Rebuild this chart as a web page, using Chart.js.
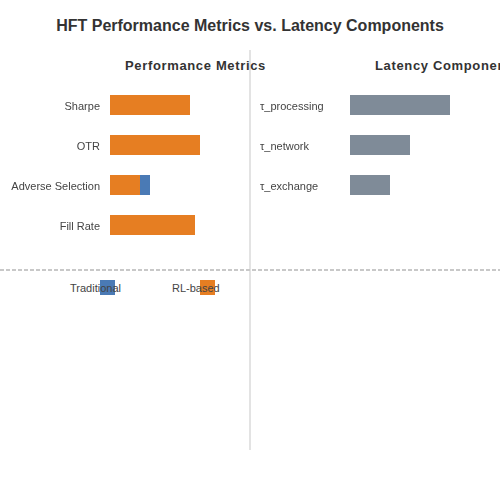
<!DOCTYPE html>
<html lang="en">
<head>
<meta charset="UTF-8">
<title>HFT Performance Metrics vs. Latency Components</title>
<style>
  body { margin: 0; background: #fff; font-family: "Liberation Sans", Arial, sans-serif; }
  #wrap { position: relative; width: 500px; height: 500px; overflow: hidden; background: #fff; }
  .title { position: absolute; left: 0; width: 500px; top: 16px; text-align: center; font-size: 16px; font-weight: bold; color: #333; line-height: 20px; }
  .sub { position: absolute; top: 58px; font-size: 13px; font-weight: bold; color: #333; white-space: nowrap; line-height: 16px; letter-spacing: 0.65px; }
  .vline { position: absolute; left: 249px; top: 50px; width: 2px; height: 400px; background: #e3e3e3; }
  .hline { position: absolute; left: 0; top: 269px; width: 500px; height: 2px;
           background: repeating-linear-gradient(90deg, #c8c8c8 0 4px, transparent 4px 6px); }
  .box { position: absolute; top: 280px; width: 15px; height: 15px; }
  .leg { position: absolute; top: 281px; font-size: 11px; color: #444; line-height: 14px; white-space: nowrap; }
  canvas { position: absolute; }
</style>
</head>
<body>
<div id="wrap">
  <div class="title">HFT Performance Metrics vs. Latency Components</div>
  <div class="vline"></div>
  <div class="sub" style="left:125px">Performance Metrics</div>
  <div class="sub" style="left:375px">Latency Components</div>
  <div class="hline"></div>

  <canvas id="perfChart" width="210" height="160" style="left:0;top:85px"></canvas>
  <canvas id="latChart" width="250" height="120" style="left:250px;top:85px"></canvas>

  <div class="box" style="left:100px;background:#4a7ab5"></div>
  <div class="leg" style="left:70px">Traditional</div>
  <div class="box" style="left:200px;background:#e67e22"></div>
  <div class="leg" style="left:172px">RL-based</div>
</div>

<script src="https://cdn.jsdelivr.net/npm/chart.js"></script>
<script>
  // performance metrics (normalised score, 0-100)
  const metricNames = ['Sharpe', 'OTR', 'Adverse Selection', 'Fill Rate'];
  const rlScores = [80, 90, 30, 85];
  const tradScores = [55, 60, 40, 65];

  // latency components (microseconds)
  const latencyNames = ['τ_processing', 'τ_network', 'τ_exchange'];
  const latencyValues = [10, 6, 4];

  const orange = '#e67e22';
  const blue = '#4a7ab5';
  const grey = '#7f8b98';

  Chart.defaults.font.family = '"Liberation Sans", Arial, sans-serif';
  Chart.defaults.color = '#444';

  const noExtras = { legend: { display: false }, tooltip: { enabled: false } };

  // fixed label column, no extra top/bottom padding from the tick labels
  function fixAxis(w) {
    return function(s) {
      s.width = w;
      s.paddingTop = 0;
      s.paddingBottom = 0;
    };
  }

  // left panel: both series overlap, RL-based drawn on top
  new Chart(document.getElementById('perfChart'), {
    type: 'bar',
    data: {
      labels: metricNames,
      datasets: [
        { label: 'RL-based', data: rlScores, backgroundColor: orange, order: 0 },
        { label: 'Traditional', data: tradScores, backgroundColor: blue, order: 1 }
      ]
    },
    options: {
      indexAxis: 'y',
      responsive: false,
      animation: false,
      layout: { padding: 0 },
      plugins: noExtras,
      datasets: { bar: { grouped: false, barThickness: 20, inflateAmount: 0 } },
      scales: {
        x: { display: false, min: 0, max: 100 },
        y: {
          grid: { display: false, drawTicks: false },
          border: { display: false },
          ticks: { padding: 10, labelOffset: 1.5, color: '#444', font: { size: 11 } },
          afterFit: fixAxis(110)
        }
      }
    }
  });

  // right panel
  new Chart(document.getElementById('latChart'), {
    type: 'bar',
    data: {
      labels: latencyNames,
      datasets: [{ label: 'Latency', data: latencyValues, backgroundColor: grey }]
    },
    options: {
      indexAxis: 'y',
      responsive: false,
      animation: false,
      layout: { padding: { left: 10 } },
      plugins: noExtras,
      datasets: { bar: { barThickness: 20, inflateAmount: 0 } },
      scales: {
        x: { display: false, min: 0, max: 15 },
        y: {
          grid: { display: false, drawTicks: false },
          border: { display: false },
          ticks: { crossAlign: 'far', labelOffset: 1.5, color: '#444', font: { size: 11 } },
          afterFit: fixAxis(90)
        }
      }
    }
  });
</script>
</body>
</html>
